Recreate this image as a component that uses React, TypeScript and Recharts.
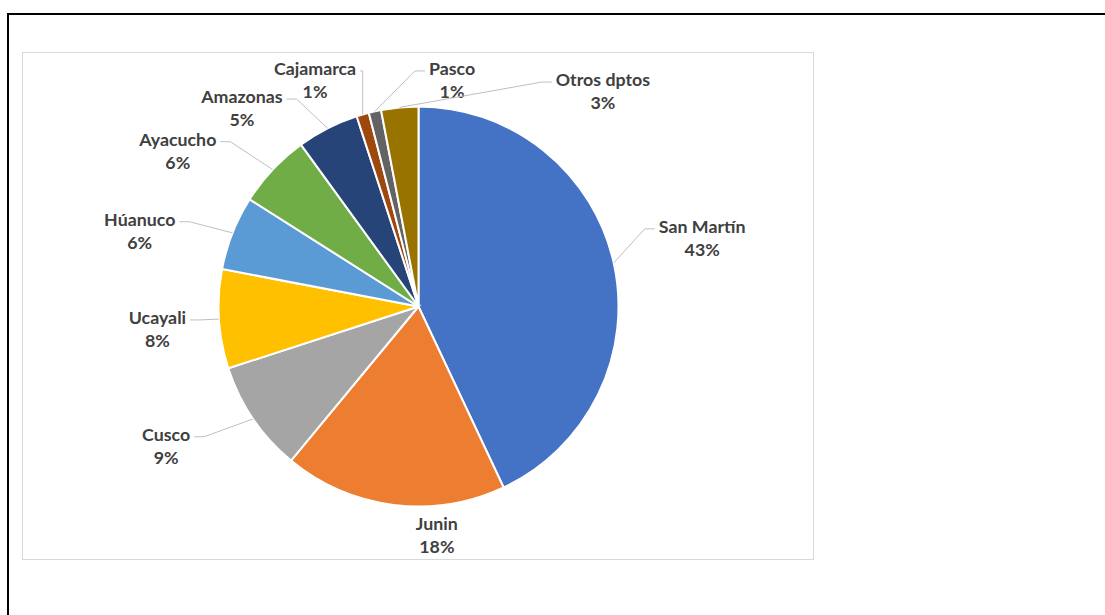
import React from "react";
import { PieChart, Pie, Cell } from "recharts";

const categories = ["San Martín", "Junin", "Cusco", "Ucayali", "Húanuco", "Ayacucho", "Amazonas", "Cajamarca", "Pasco", "Otros dptos"];
const shares = [43, 18, 9, 8, 6, 6, 5, 1, 1, 3];
const colors = ["#4472C4", "#ED7D31", "#A5A5A5", "#FFC000", "#5B9BD5", "#70AD47", "#264478", "#9E480E", "#636363", "#997300"];
// label placement: [distance from centre, clockwise angle from 12 o'clock, draw leader]
const labelRadius = [292, 229, 288, 262, 289, 287, 266, 249.5, 229.5, 284];
const labelAngle = [76.3, 175.4, 241.2, 265.2, 285.3, 303, 318.4, 335.5, 8.4, 40.5];
const labelLeader = [true, false, true, true, true, true, true, true, true, true];

const data = categories.map((name, i) => ({ name, value: shares[i] }));

const FONT_SIZE = 17.8;
const FONT_FAMILY = "Lato";
const FONT = `bold ${FONT_SIZE}px ${FONT_FAMILY}`;
let ctx: CanvasRenderingContext2D | null = null;
function measure(t: string) {
  if (!ctx) {
    const c = document.createElement("canvas");
    ctx = c.getContext("2d");
  }
  if (!ctx) return t.length * 8;
  ctx.font = FONT;
  return ctx.measureText(t).width;
}

const RAD = Math.PI / 180;

function renderLabel(props: any) {
  const { cx, cy, midAngle, outerRadius, index, name, percent } = props;
  const r = labelRadius[index];
  const th = labelAngle[index] * RAD;
  const lx = cx + r * Math.sin(th);
  const ly = cy - r * Math.cos(th);
  const y1 = ly - 11.5;
  const y2 = ly + 11.5;
  const pct = `${Math.round(percent * 100)}%`;
  const w = measure(name);
  const sx = cx + outerRadius * Math.cos(-midAngle * RAD);
  const sy = cy + outerRadius * Math.sin(-midAngle * RAD);
  let path = null;
  if (labelLeader[index]) {
    const right = lx > sx;
    const ex = right ? lx - w / 2 - 4 : lx + w / 2 + 4;
    const ey = y1 + 3;
    const dx = Math.min(10, Math.abs(sx - ex));
    const bx = right ? ex - dx : ex + dx;
    path = (
      <path d={`M${sx},${sy}L${bx},${ey}L${ex},${ey}`} stroke="#BFBFBF" strokeWidth={1} fill="none" />
    );
  }
  return (
    <g key={`lab-${index}`}>
      {path}
      <text x={lx} y={y1} textAnchor="middle" dominantBaseline="central" fill="#404040" fontFamily={FONT_FAMILY} fontWeight="bold" fontSize={FONT_SIZE}>
        {name}
      </text>
      <text x={lx} y={y2} textAnchor="middle" dominantBaseline="central" fill="#404040" fontFamily={FONT_FAMILY} fontWeight="bold" fontSize={FONT_SIZE}>
        {pct}
      </text>
    </g>
  );
}

export default function App() {
  return (
    <div style={{ position: "fixed", left: 0, top: 0, width: 1105, height: 615, overflow: "hidden", background: "#fff" }}>
      <div style={{ position: "absolute", left: 7, top: 13, width: 1120, height: 640, border: "2px solid #000" }} />
      <div style={{ position: "absolute", left: 22, top: 52, width: 790, height: 506, border: "1px solid #D9D9D9", background: "#fff" }}>
        <PieChart width={790} height={506} margin={{ top: 0, right: 0, bottom: 0, left: 0 }}>
          <Pie
            data={data}
            dataKey="value"
            nameKey="name"
            cx={395.5}
            cy={253.5}
            outerRadius={200}
            startAngle={90}
            endAngle={-270}
            stroke="#FFFFFF"
            strokeWidth={2}
            label={renderLabel}
            labelLine={false}
            isAnimationActive={false}
          >
            {data.map((d, i) => (
              <Cell key={d.name} fill={colors[i]} />
            ))}
          </Pie>
        </PieChart>
      </div>
    </div>
  );
}
